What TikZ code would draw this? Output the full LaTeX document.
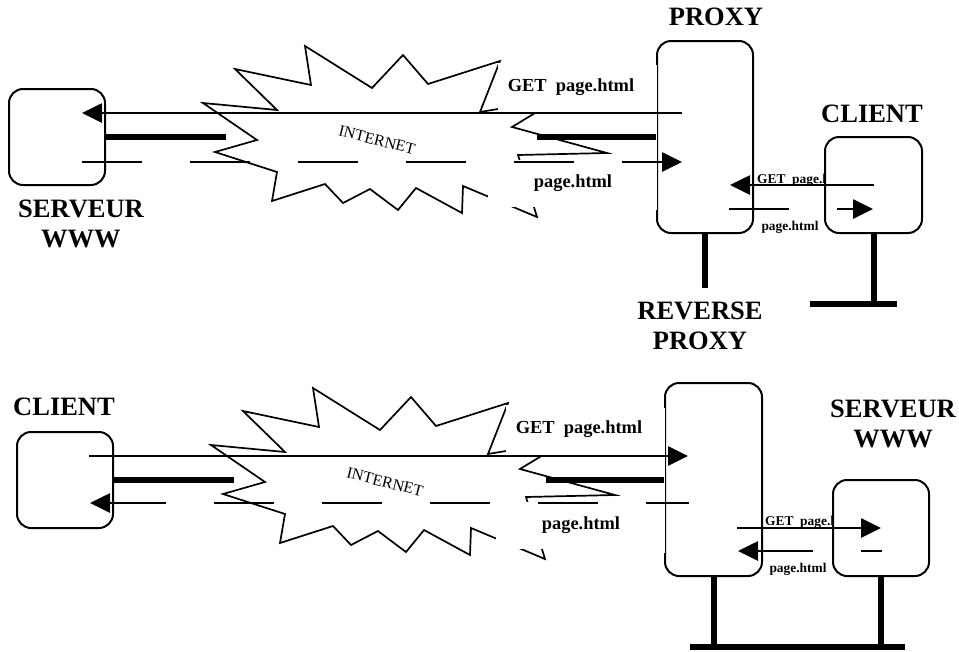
\documentclass[tikz,border=0pt]{standalone}
\usepackage{fontspec}
\setmainfont{Liberation Serif}
\usetikzlibrary{arrows.meta}
\tikzset{
  machine/.style = {
    rectangle,
    draw = black,
    fill = white,
    line width = 2pt,
    rounded corners = 14pt,
    minimum width = 96pt,
    minimum height = 96pt
  },
  titre/.style = {
    inner sep = 0pt,
    align = center,
    font = \fontsize{26.5}{29.5}\selectfont\bfseries
  },
  masque/.style = {
    fill = white,
    inner sep = 0pt,
    font = \fontsize{18.4}{20}\selectfont\bfseries
  },
  petit/.style = {
    inner sep = 0pt,
    font = \fontsize{13.4}{15}\selectfont\bfseries
  },
  reseau/.style = {
    rotate = -14,
    inner sep = 0pt,
    font = \fontsize{16}{18}\selectfont
  },
  nuage/.style = {
    line width = 1.7pt,
    line join = miter
  },
  requete/.style = {
    line width = 2.7pt,
    -{Triangle[length = 20pt, width = 19pt]}
  },
  reponse/.style = {
    requete,
    dash pattern = on 60pt off 48pt
  },
  barre/.style = {
    line width = 6pt
  },
}
\newcommand{\internet}[3]{
  \begin{scope}[shift = {(#1,#2)}]
    \draw[nuage] (203,103) -- (277,110) -- (235,69) -- (311,85) -- (305,46)
      -- (372,88) -- (403,55) -- (428,84) -- (500,61) -- (480,112)
      -- (558,99) -- (512,127) -- (607,153) -- (518,155) -- (537,217)
      -- (463,186) -- (462,213) -- (416,188) -- (398,210) -- (370,189)
      -- (343,203) -- (325,184) -- (272,201) -- (277,172) -- (215,152)
      -- (257,140) -- cycle;
    \node[reseau] (#3) at (377,140) {INTERNET};
  \end{scope}
}
\newcommand{\bord}[1]{
  \fill[white] ([yshift = 72pt]#1.west) rectangle ([xshift = 1pt, yshift = -73pt]#1.west);
}

\begin{document}
\begin{tikzpicture}[x = 1pt, y = -1pt]
  \useasboundingbox (0,0) rectangle (959,651);
  % proxy
  \internet{0}{0}{net}
  \node[masque, minimum width = 146pt, minimum height = 50pt] (get) at (571,87.5) {GET\ \ page.html};
  \node[masque, minimum width = 170pt, minimum height = 47pt] (page) at (573,183) {page.html};
  \node[machine] (serveur) at (57,137) {};
  \node[machine, minimum height = 192pt] (proxy) at (705,137) {};
  \bord{proxy}
  \node[petit, anchor = base west] (getc) at (757,183) {GET\ \ page.html};
  \node[petit] (pagec) at (790,227) {page.html};
  \node[machine, minimum width = 97pt] (client) at (873.5,185) {};
  \coordinate (s-get) at (82,113);
  \coordinate (p-get) at (682,113);
  \coordinate (s-page) at (82,162);
  \coordinate (p-page) at (682,162);
  \coordinate (pc-get) at (730,185);
  \coordinate (pc-page) at (729,209);
  \coordinate (c-page) at (873,209);
  \draw[requete] (p-get) -- (s-get);
  \draw[reponse] (s-page) -- (p-page);
  \draw[barre] (serveur.east) -- ++(120,0);
  \draw[barre] (proxy.west) -- ++(-119,0);
  \draw[requete] (client.center) -- (pc-get);
  \draw[reponse] (pc-page) -- (c-page);
  \draw[barre] (proxy.south) -- ++(0,54);
  \draw[barre] (client.south) -- ++(0,71);
  \draw[barre] (810,304) -- (897,304);
  \node[titre, anchor = north] (t-serveur) at (81,200) {SERVEUR\\WWW};
  \node[titre, anchor = north] (t-proxy) at (716,8) {PROXY};
  \node[titre, anchor = north] (t-client) at (872,105) {CLIENT};
  \node[titre, anchor = north] (t-reverse) at (700,302) {REVERSE\\PROXY};
  % reverse proxy
  \internet{8}{342}{netb}
  \node[masque, minimum width = 146pt, minimum height = 50pt] (getb) at (579,429.5) {GET\ \ page.html};
  \node[masque, minimum width = 170pt, minimum height = 47pt] (pageb) at (581,525) {page.html};
  \node[machine] (clientb) at (65,480) {};
  \node[machine, minimum width = 97pt, minimum height = 193pt] (proxyb) at (713.5,479.5) {};
  \bord{proxyb}
  \node[petit, anchor = base west] (getsb) at (765,525) {GET\ \ page.html};
  \node[petit] (pagesb) at (798,569) {page.html};
  \node[machine] (serveurb) at (881,528) {};
  \coordinate (c-getb) at (89,456);
  \coordinate (p-getb) at (688,456);
  \coordinate (p-pageb) at (689,503);
  \coordinate (c-pageb) at (90,503);
  \coordinate (ps-getb) at (737,528);
  \coordinate (s-pageb) at (882,551);
  \coordinate (ps-pageb) at (738,551);
  \draw[requete] (c-getb) -- (p-getb);
  \draw[reponse, dash phase = 17pt] (p-pageb) -- (c-pageb);
  \draw[barre] (clientb.east) -- ++(120,0);
  \draw[barre] (proxyb.west) -- ++(-118,0);
  \draw[requete] (ps-getb) -- (serveurb.center);
  \draw[reponse, dash phase = 39pt] (s-pageb) -- (ps-pageb);
  \draw[barre] (proxyb.south) -- ++(0,70);
  \draw[barre] (serveurb.south) -- ++(0,70);
  \draw[barre] (690,647) -- (905,647);
  \node[titre, anchor = north] (t-clientb) at (64,398) {CLIENT};
  \node[titre, anchor = north] (t-serveurb) at (893,400) {SERVEUR\\WWW};
\end{tikzpicture}
\end{document}
